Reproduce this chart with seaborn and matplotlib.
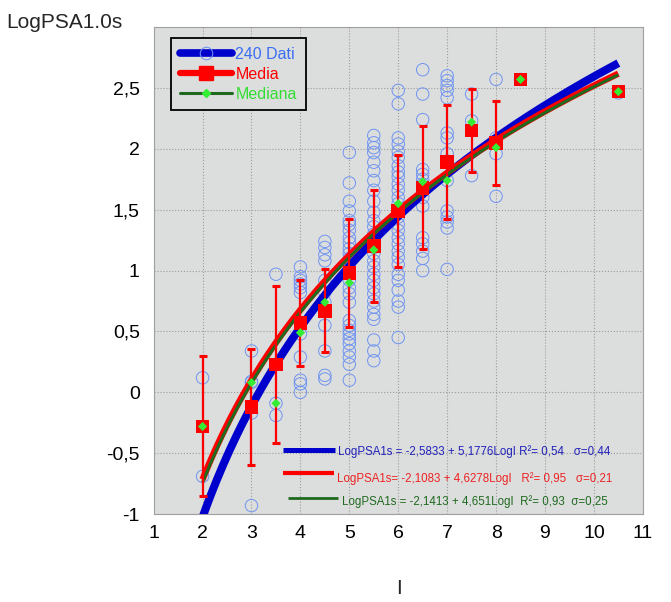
import numpy as np
import pandas as pd
import matplotlib
matplotlib.use("Agg")
import matplotlib.pyplot as plt
from matplotlib.lines import Line2D
import seaborn as sns

# ---- observed LogPSA(1.0 s) values, one list per intensity class ----
obs_2 = [0.12, -0.69]
obs_3 = [0.34, 0.09, 0.08, -0.17, -0.93]
obs_3_5 = [0.97, -0.09, -0.19]
obs_4 = [1.03, 0.95, 0.92, 0.89, 0.86, 0.82, 0.48, 0.29, 0.10, 0.07, 0.00]
obs_4_5 = [1.24, 1.19, 1.13, 1.08, 0.92, 0.82, 0.74, 0.55, 0.34, 0.14, 0.11]
obs_5 = [1.97, 1.72, 1.57, 1.49, 1.41, 1.38, 1.33, 1.27, 1.23, 1.18, 1.14,
         1.10, 1.06, 1.01, 0.97, 0.92, 0.86, 0.81, 0.74, 0.59, 0.55, 0.51,
         0.48, 0.44, 0.40, 0.34, 0.29, 0.23, 0.10]
obs_5_5 = [2.11, 2.05, 2.01, 1.97, 1.89, 1.82, 1.74, 1.66, 1.57, 1.48, 1.41,
           1.36, 1.30, 1.25, 1.19, 1.14, 1.08, 1.03, 0.97, 0.92, 0.86, 0.81,
           0.75, 0.70, 0.64, 0.60, 0.43, 0.34, 0.26]
obs_6 = [2.48, 2.37, 2.09, 2.04, 1.98, 1.93, 1.86, 1.81, 1.77, 1.71, 1.66,
         1.60, 1.55, 1.49, 1.44, 1.38, 1.33, 1.27, 1.22, 1.16, 1.11, 1.05,
         0.97, 0.92, 0.84, 0.75, 0.70, 0.45]
obs_6_5 = [2.65, 2.45, 2.24, 1.83, 1.79, 1.75, 1.71, 1.66, 1.60, 1.53, 1.27,
           1.22, 1.16, 1.10, 1.00]
obs_7 = [2.60, 2.56, 2.52, 2.48, 2.42, 2.13, 2.09, 1.96, 1.90, 1.74, 1.49,
         1.44, 1.40, 1.35, 1.01]
obs_7_5 = [2.45, 2.23, 1.78]
obs_8 = [2.57, 2.09, 1.96, 1.61]
obs_8_5 = [2.57]
obs_10_5 = [2.46]

obs_classes = [2, 3, 3.5, 4, 4.5, 5, 5.5, 6, 6.5, 7, 7.5, 8, 8.5, 10.5]
obs_lists = [obs_2, obs_3, obs_3_5, obs_4, obs_4_5, obs_5, obs_5_5, obs_6,
             obs_6_5, obs_7, obs_7_5, obs_8, obs_8_5, obs_10_5]

# ---- class statistics ----
class_I = [2, 3, 3.5, 4, 4.5, 5, 5.5, 6, 6.5, 7, 7.5, 8, 8.5, 10.5]
mean_psa = [-0.28, -0.12, 0.23, 0.57, 0.67, 0.98, 1.20, 1.49, 1.68, 1.89,
            2.15, 2.05, 2.57, 2.47]
std_psa = [0.575, 0.48, 0.645, 0.35, 0.34, 0.44, 0.46, 0.46, 0.505, 0.467,
           0.34, 0.345, np.nan, np.nan]
median_psa = [-0.28, 0.08, -0.09, 0.49, 0.74, 0.90, 1.17, 1.55, 1.73, 1.74,
              2.22, 2.01, 2.57, 2.47]

# ---- regressions LogPSA1s = a + b*LogI ----
fit_names = ["240 Dati", "Media", "Mediana"]
fit_a = [-2.5833, -2.1083, -2.1413]
fit_b = [5.1776, 4.6278, 4.651]
fit_a_txt = ["-2,5833", "-2,1083", "-2,1413"]
fit_b_txt = ["5,1776", "4,6278", "4,651"]
fit_r2_txt = ["0,54", "0,95", "0,93"]
fit_sigma_txt = ["0,44", "0,21", "0,25"]

x_ticks = [1, 2, 3, 4, 5, 6, 7, 8, 9, 10, 11]
x_tick_labels = ["1", "2", "3", "4", "5", "6", "7", "8", "9", "10", "11"]
y_ticks = [-1, -0.5, 0, 0.5, 1, 1.5, 2, 2.5]
y_tick_labels = ["-1", "-0,5", "0", "0,5", "1", "1,5", "2", "2,5"]

# ---- styling ----
sns.set_style("whitegrid", {
    "axes.facecolor": "#dcdddd",
    "axes.edgecolor": "#a0a0a0",
    "grid.color": "#9c9c9c",
    "grid.linestyle": ":",
})
plt.rcParams["font.family"] = ["Liberation Sans", "DejaVu Sans"]

c_pts = "#6f94f0"
c_blue = "#0000cc"
c_red = "#ff0000"
c_green = "#1f6a1f"
c_lime = "#33ee33"

fig = plt.figure(figsize=(6.71, 6.02), dpi=100)
ax = fig.add_axes([0.229, 0.146, 0.729, 0.809])

# scatter of all observations
df_obs = pd.DataFrame({
    "I": np.concatenate([[c] * len(v) for c, v in zip(obs_classes, obs_lists)]),
    "psa": np.concatenate(obs_lists),
})
sns.scatterplot(data=df_obs, x="I", y="psa", ax=ax, marker="o", s=80,
                facecolors="none", edgecolor=c_pts, linewidth=0.7,
                legend=False, zorder=2)

# regression curves
xs = np.linspace(2, 10.5, 200)
widths = [5.8, 4.6, 2.2]
colors = [c_blue, c_red, c_green]
for a, b, lw, col, z in zip(fit_a, fit_b, widths, colors, [3, 4, 5]):
    df_fit = pd.DataFrame({"I": xs, "psa": a + b * np.log10(xs)})
    sns.lineplot(data=df_fit, x="I", y="psa", ax=ax, color=col, lw=lw,
                 zorder=z, solid_capstyle="butt")

# class means with +/- one standard deviation
ax.errorbar(class_I, mean_psa, yerr=std_psa, fmt="none", ecolor=c_red,
            elinewidth=1.6, capsize=3, capthick=2.2, zorder=6)
df_stats = pd.DataFrame({"I": class_I, "mean": mean_psa, "median": median_psa})
sns.scatterplot(data=df_stats, x="I", y="mean", ax=ax, marker="s", s=95,
                color=c_red, edgecolor="none", linewidth=0, legend=False,
                zorder=7)
sns.scatterplot(data=df_stats, x="I", y="median", ax=ax, marker="D", s=22,
                color=c_lime, edgecolor="none", linewidth=0, legend=False,
                zorder=8)

ax.set_xlim(1, 11)
ax.set_ylim(-1, 3)
ax.set_xticks(x_ticks)
ax.set_xticklabels(x_tick_labels)
ax.set_yticks(y_ticks)
ax.set_yticklabels(y_tick_labels)
ax.tick_params(axis="both", labelsize=14, length=0, colors="black")
ax.tick_params(axis="x", pad=8)
ax.tick_params(axis="y", pad=10)
ax.grid(True, lw=0.8)
ax.set_xlabel("")
ax.set_ylabel("")
for sp in ax.spines.values():
    sp.set_linewidth(0.8)

fig.text(0.010, 0.963, "LogPSA1.0s", fontsize=15, ha="left", va="center")
fig.text(0.594, 0.023, "I", fontsize=15, ha="center", va="center")

# legend
handles = [
    Line2D([], [], color=c_blue, lw=5.5, marker="o", markersize=9,
           markerfacecolor="none", markeredgecolor=c_pts, markeredgewidth=0.75),
    Line2D([], [], color=c_red, lw=4.5, marker="s", markersize=10,
           markerfacecolor=c_red, markeredgecolor=c_red),
    Line2D([], [], color=c_green, lw=2.2, marker="D", markersize=4.5,
           markerfacecolor=c_lime, markeredgecolor=c_lime),
]
leg = ax.legend(handles, fit_names, loc="upper left",
                bbox_to_anchor=(0.035, 0.977), borderaxespad=0,
                fontsize=11.5, frameon=True, fancybox=False, framealpha=1,
                edgecolor="black", handlelength=3.3, handletextpad=0.2,
                labelspacing=0.3, borderpad=0.55)
leg.get_frame().set_linewidth(1.3)
for txt, col in zip(leg.get_texts(), ["#3a6ef5", c_red, "#33dd33"]):
    txt.set_color(col)

# regression equations
eq_colors = ["#2222bb", "#ee2222", "#1f6a1f"]
seg_x = [(3.64, 4.70), (3.64, 4.68), (3.74, 4.76)]
seg_y = [-0.475, -0.66, -0.865]
seg_w = [3.6, 3.0, 2.0]
txt_x = [4.76, 4.74, 4.86]
txt_y = [-0.49, -0.705, -0.895]
eq_fmt = [
    "LogPSA1s = {a} + {b}LogI R²= {r}   σ={s}",
    "LogPSA1s= {a} + {b}LogI   R²= {r}   σ={s}",
    "LogPSA1s = {a} + {b}LogI  R²= {r}  σ={s}",
]
for i in range(3):
    ax.plot(seg_x[i], [seg_y[i]] * 2, color=colors[i], lw=seg_w[i],
            solid_capstyle="butt", zorder=5)
    ax.text(txt_x[i], txt_y[i],
            eq_fmt[i].format(a=fit_a_txt[i], b=fit_b_txt[i],
                             r=fit_r2_txt[i], s=fit_sigma_txt[i]),
            color=eq_colors[i], fontsize=8.3, ha="left", va="center",
            zorder=9)

fig.savefig("out.png", dpi=100)
